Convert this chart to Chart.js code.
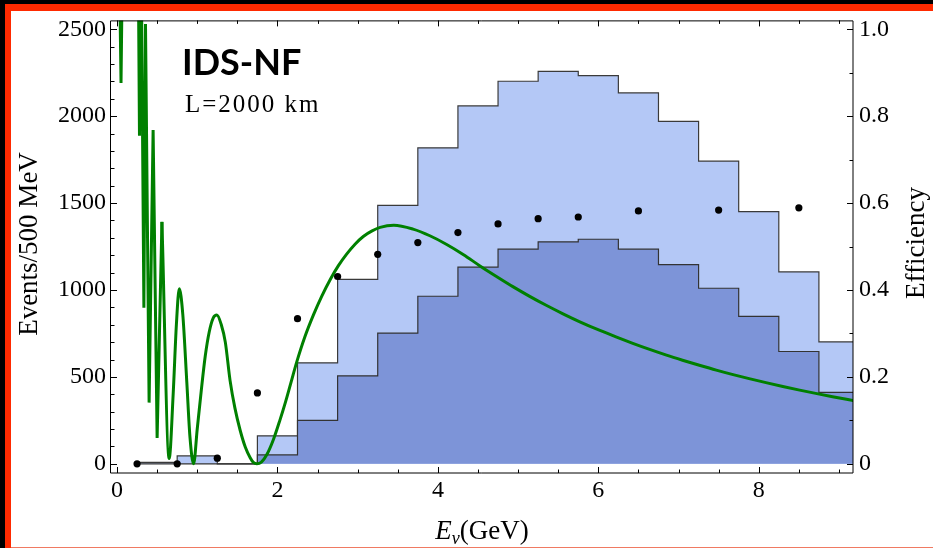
<!DOCTYPE html>
<html>
<head>
<meta charset="utf-8">
<script src="https://cdn.jsdelivr.net/npm/chart.js@4"></script>
<style>
  html, body { margin: 0; padding: 0; background: #fff; }
  #wrap { position: relative; width: 933px; height: 548px; background: #fff; overflow: hidden; }
  #wrap canvas { position: absolute; left: 0; top: 0; }
  .bd { position: absolute; }
</style>
</head>
<body>
<div id="wrap">
  <canvas id="c" width="933" height="548"></canvas>
  <div class="bd" style="left:0;top:0;width:933px;height:4px;background:#000"></div>
  <div class="bd" style="left:0;top:0;width:5px;height:548px;background:#000"></div>
  <div class="bd" style="left:5px;top:4px;width:928px;height:7px;background:#ff2a00"></div>
  <div class="bd" style="left:5px;top:4px;width:6px;height:544px;background:#ff2a00"></div>
  <div class="bd" style="left:11px;top:547px;width:922px;height:1px;background:#f07a62"></div>
</div>
<script>
// bin edges (GeV) and event counts per 500 MeV bin
const binEdges = [0.25, 0.75, 1.25, 1.75, 2.25, 2.75, 3.25, 3.75, 4.25, 4.75,
  5.25, 5.75, 6.25, 6.75, 7.25, 7.75, 8.25, 8.75, 9.25];
const allEvents = [8, 45, 0, 161, 581, 1061, 1487, 1818, 2059, 2201, 2258, 2233,
  2134, 1970, 1741, 1451, 1104, 701];
const selEvents = [0, 0, 0, 51, 250, 506, 752, 964, 1131, 1235, 1277, 1292,
  1235, 1146, 1010, 848, 646, 411];

// efficiency points (right axis)
const effE = [0.25, 0.75, 1.25, 1.75, 2.25, 2.75, 3.25, 3.75, 4.25, 4.75, 5.25, 5.75, 6.5, 7.5, 8.5];
const effVal = [0, 0, 0.013, 0.163, 0.334, 0.431, 0.482, 0.509, 0.532, 0.552, 0.564, 0.568, 0.582, 0.584, 0.589];

// green curve: fast wiggles at low energy (straight strokes)
const wiggleE = [0.02, 0.05, 0.075, 0.26, 0.28, 0.30, 0.335, 0.355, 0.40, 0.45, 0.50, 0.56];
const wiggleN = [3200, 2191, 3200, 3200, 1888, 3000, 898, 2530, 352, 1920, 148, 1392];
// ...and the smooth part above 0.56 GeV
const curveE = [0.56, 0.65, 0.70, 0.74, 0.776, 0.82, 0.87, 0.91, 0.955, 1.00, 1.05, 1.10,
  1.15, 1.20, 1.245, 1.30, 1.35, 1.41, 1.47, 1.535, 1.60, 1.66, 1.70, 1.743, 1.80, 1.87,
  1.95, 2.03, 2.10, 2.17, 2.24, 2.34, 2.45, 2.55, 2.66, 2.76, 2.86, 2.97, 3.07, 3.18,
  3.28, 3.45, 3.69, 3.90, 4.11, 4.32, 4.52, 4.73, 4.94, 5.15, 5.35, 5.56, 5.77, 6.02,
  6.22, 6.43, 6.64, 6.85, 7.05, 7.26, 7.47, 7.68, 7.88, 8.09, 8.30, 8.51, 8.71, 8.92, 9.18];
const curveN = [1392, 30, 400, 800, 1007, 860, 470, 150, 0, 200, 420, 620,
  760, 840, 856, 800, 700, 477, 320, 193, 95, 35, 8, 0, 10, 55,
  140, 250, 355, 470, 585, 728, 858, 962, 1062, 1140, 1205, 1265, 1308, 1340,
  1360, 1372, 1350, 1312, 1262, 1203, 1140, 1078, 1018, 962, 912, 863, 817, 767,
  730, 693, 658, 625, 596, 567, 539, 513, 490, 467, 445, 424, 405, 386, 364];

const xTicks = [0, 2, 4, 6, 8];
const yTicks = [0, 500, 1000, 1500, 2000, 2500];
const y2Ticks = [0, 0.2, 0.4, 0.6, 0.8, 1.0];

function steps(vals) {
  const pts = [{ x: binEdges[0], y: 0 }];
  vals.forEach((v, i) => pts.push({ x: binEdges[i], y: v }));
  pts.push({ x: binEdges[vals.length], y: vals[vals.length - 1] });
  return pts;
}

const serif = "'Liberation Serif', 'Times New Roman', serif";

// frame, inward ticks and labels
const decor = {
  id: "decor",
  afterDatasetsDraw(chart) {
    const { ctx, chartArea: a, scales } = chart;
    const { x, y, y2 } = scales;
    ctx.save();
    ctx.strokeStyle = "#000";
    ctx.lineWidth = 1;
    ctx.beginPath();
    ctx.rect(a.left - 0.5, a.top + 0.5, a.right - a.left + 0.5, a.bottom - a.top - 0.5);
    for (let v = 0; v <= 9; v += 0.5) {
      const px = Math.round(x.getPixelForValue(v)) + 0.5;
      const len = v % 2 === 0 ? 6 : 3.5;
      ctx.moveTo(px, a.bottom); ctx.lineTo(px, a.bottom - len);
      ctx.moveTo(px, a.top); ctx.lineTo(px, a.top + len);
    }
    for (let v = 0; v <= 2500; v += 100) {
      const py = Math.round(y.getPixelForValue(v)) + 0.5;
      const len = v % 500 === 0 ? 6 : 3.5;
      ctx.moveTo(a.left, py); ctx.lineTo(a.left + len, py);
    }
    for (let k = 0; k <= 10; k++) {
      const py = Math.round(y2.getPixelForValue(k / 10)) + 0.5;
      const len = k % 2 === 0 ? 6 : 3.5;
      ctx.moveTo(a.right, py); ctx.lineTo(a.right - len, py);
    }
    ctx.stroke();

    ctx.fillStyle = "#000";
    ctx.textBaseline = "alphabetic";
    ctx.textAlign = "left";
    ctx.font = "bold 36px Lato";
    ctx.fillText("IDS-NF", 182, 75);
    ctx.font = "25px " + serif;
    ctx.letterSpacing = "2px";
    ctx.fillText("L=2000 km", 185, 112);
    ctx.letterSpacing = "0px";

    // axis titles
    ctx.textAlign = "center";
    ctx.font = "27px " + serif;
    ctx.save();
    ctx.translate(37, 244);
    ctx.rotate(-Math.PI / 2);
    ctx.fillText("Events/500 MeV", 0, 0);
    ctx.restore();
    ctx.save();
    ctx.translate(924, 243);
    ctx.rotate(-Math.PI / 2);
    ctx.fillText("Efficiency", 0, 0);
    ctx.restore();

    // E_nu (GeV)
    ctx.textAlign = "left";
    const big = "27px " + serif, it = "italic 27px " + serif, sub = "italic 18px " + serif;
    ctx.font = it; const wE = ctx.measureText("E").width;
    ctx.font = sub; const wN = ctx.measureText("\u03bd").width;
    ctx.font = big; const wG = ctx.measureText("(GeV)").width;
    let sx = (a.left + a.right) / 2 - (wE + wN + wG) / 2;
    const base = 539;
    ctx.font = it; ctx.fillText("E", sx, base); sx += wE;
    ctx.font = sub; ctx.fillText("\u03bd", sx, base + 5); sx += wN;
    ctx.font = big; ctx.fillText("(GeV)", sx, base);
    ctx.restore();
  }
};

const tickFont = { family: serif, size: 24 };

new Chart(document.getElementById("c"), {
  type: "line",
  data: {
    datasets: [
      {
        data: effE.map((e, i) => ({ x: e, y: effVal[i] })),
        yAxisID: "y2",
        showLine: false,
        pointRadius: 3.6,
        pointBackgroundColor: "#000",
        pointBorderWidth: 0,
        order: 0
      },
      {
        data: wiggleE.map((e, i) => ({ x: e, y: wiggleN[i] })),
        yAxisID: "y",
        borderColor: "#008000",
        borderWidth: 3,
        borderJoinStyle: "miter",
        pointRadius: 0,
        tension: 0,
        clip: 0,
        order: 1
      },
      {
        data: curveE.map((e, i) => ({ x: e, y: curveN[i] })),
        yAxisID: "y",
        borderColor: "#008000",
        borderWidth: 3,
        pointRadius: 0,
        cubicInterpolationMode: "monotone",
        clip: 0,
        order: 1
      },
      {
        data: steps(selEvents),
        yAxisID: "y",
        stepped: true,
        fill: "origin",
        backgroundColor: "#7d94d8",
        borderColor: "#333",
        borderWidth: 1.2,
        pointRadius: 0,
        clip: 0,
        order: 2
      },
      {
        data: steps(allEvents),
        yAxisID: "y",
        stepped: true,
        fill: "origin",
        backgroundColor: "#b4c8f6",
        borderColor: "#3a3a3a",
        borderWidth: 1.2,
        pointRadius: 0,
        clip: 0,
        order: 3
      }
    ]
  },
  options: {
    responsive: false,
    animation: false,
    layout: { padding: { top: 14, left: 0, right: 0, bottom: 0 } },
    plugins: { legend: { display: false }, tooltip: { enabled: false } },
    scales: {
      x: {
        type: "linear",
        min: -0.075,
        max: 9.175,
        grid: { display: false, drawTicks: false },
        border: { display: false },
        afterBuildTicks: (s) => { s.ticks = xTicks.map((v) => ({ value: v })); },
        afterFit: (s) => { s.height = 75; },
        ticks: { font: tickFont, color: "#000", padding: 3, maxRotation: 0, callback: (v) => String(v) }
      },
      y: {
        position: "left",
        min: -53,
        max: 2551,
        grid: { display: false, drawTicks: false },
        border: { display: false },
        afterBuildTicks: (s) => { s.ticks = yTicks.map((v) => ({ value: v })); },
        afterFit: (s) => { s.width = 111; },
        ticks: { font: tickFont, color: "#000", padding: 5, callback: (v) => String(v) }
      },
      y2: {
        position: "right",
        min: -53 / 2500,
        max: 2551 / 2500,
        grid: { display: false, drawTicks: false },
        border: { display: false },
        afterBuildTicks: (s) => { s.ticks = y2Ticks.map((v) => ({ value: v })); },
        afterFit: (s) => { s.width = 80; },
        ticks: { font: tickFont, color: "#000", padding: 6, callback: (v) => (v === 0 ? "0" : v.toFixed(1)) }
      }
    }
  },
  plugins: [decor]
});
</script>
</body>
</html>
